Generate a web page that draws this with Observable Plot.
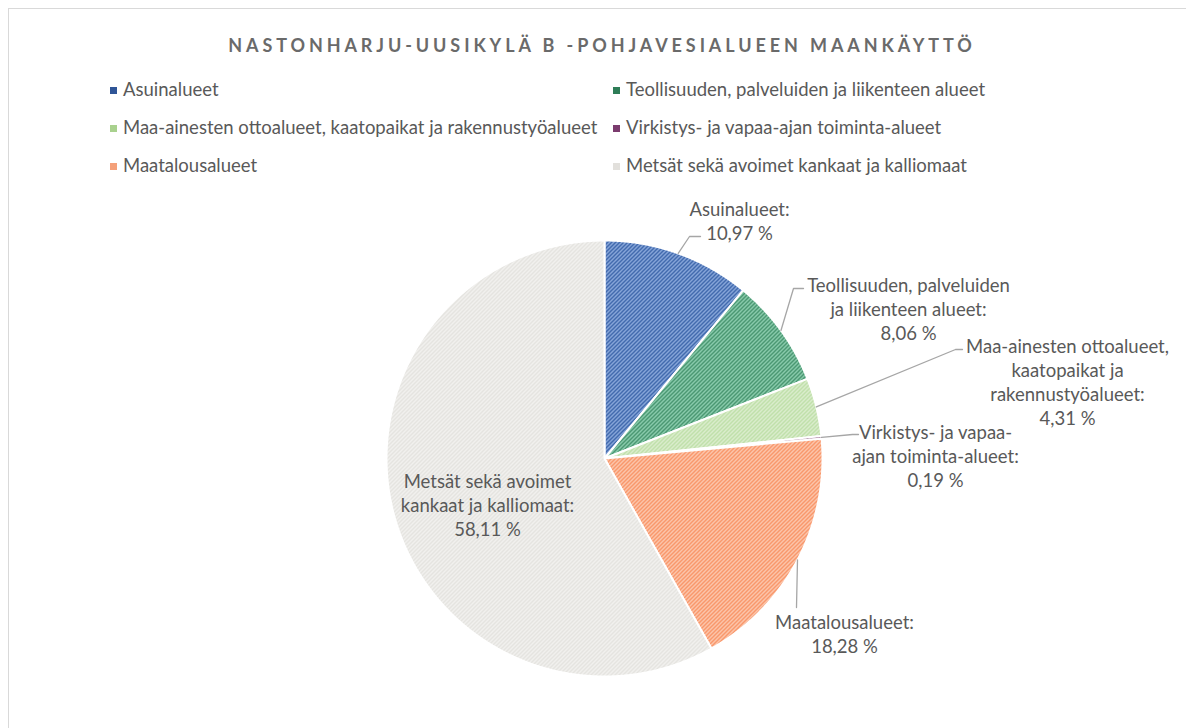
<!DOCTYPE html>
<html><head><meta charset="utf-8">
<script src="https://cdn.jsdelivr.net/npm/d3@7"></script>
<script src="https://cdn.jsdelivr.net/npm/@observablehq/plot@0.6"></script>
<style>
body{margin:0;background:#fff;font-family:Lato,"Open Sans",sans-serif;color:#595959;overflow:hidden;width:1186px;height:728px;position:relative}
#frame{position:absolute;left:8px;top:8px;width:1200px;height:760px;border:1px solid #d9d9d9;box-sizing:border-box}
#title{position:absolute;left:0;width:1204px;top:33px;text-align:center;font-size:18px;font-weight:700;letter-spacing:3.9px;line-height:24px;color:#6a6a6a;white-space:nowrap}
.leg{position:absolute;font-size:18.5px;line-height:22px;white-space:nowrap}
.leg i{display:inline-block;width:7px;height:7px;margin-right:6px;vertical-align:middle;position:relative;top:-1px}
#chart{position:absolute;left:0;top:185px}
#defs{position:absolute;width:0;height:0}
</style></head><body>
<div id="frame"></div>
<div id="title"></div>
<div id="legend"></div>
<svg id="defs" width="0" height="0"><defs id="patdefs"></defs></svg>
<div id="chart"></div>
<script>
// ---- data ----
const title = "NASTONHARJU-UUSIKYLÄ B -POHJAVESIALUEEN MAANKÄYTTÖ";
const categories = [
  "Asuinalueet",
  "Teollisuuden, palveluiden ja liikenteen alueet",
  "Maa-ainesten ottoalueet, kaatopaikat ja rakennustyöalueet",
  "Virkistys- ja vapaa-ajan toiminta-alueet",
  "Maatalousalueet",
  "Metsät sekä avoimet kankaat ja kalliomaat"
];
const shares = [10.97, 8.06, 4.31, 0.19, 18.28, 58.11];
const labelNames = [
  "Asuinalueet:",
  "Teollisuuden, palveluiden\nja liikenteen alueet:",
  "Maa-ainesten ottoalueet,\nkaatopaikat ja\nrakennustyöalueet:",
  "Virkistys- ja vapaa-\najan toiminta-alueet:",
  "Maatalousalueet:",
  "Metsät sekä avoimet\nkankaat ja kalliomaat:"
];

// ---- styles / layout ----
const patternBase =   ["#a9c3ef", "#a8e5c8", "#e6f3dc", "#c9a6c0", "#fddccb", "#f7f7f5"];
const patternStripe = ["#23509a", "#2f8059", "#b5da9c", "#7a3e6e", "#f8834f", "#e0deda"];
const legendColor =   ["#2f5597", "#2e7d57", "#a9d18e", "#7b3b6e", "#f4a07a", "#e2e0dc"];
const W = 1186, H = 530, cx = 604, cy = 273, R = 218;
// label block centre and leader elbow/end (pixel layout inside the svg)
const labelLayout = [
  {x: 739, y: 34.5, elbow: [689, 51],  end: [700, 51]},
  {x: 908, y: 123, elbow: [793, 103], end: [803, 103]},
  {x: 1067, y: 196, elbow: [955, 164], end: [962, 164]},
  {x: 935, y: 270, elbow: [852, 249], end: [858, 249]},
  {x: 844, y: 448, elbow: [796, 422], end: [796, 422]},
  {x: 487, y: 319, elbow: null, end: null}
];
const legendX = [110, 613], legendY0 = 89, legendDy = 38;

document.getElementById("title").textContent = title;

// patterns
const defs = document.getElementById("patdefs");
defs.innerHTML = categories.map((c, i) =>
  `<pattern id="pat${i}" width="4" height="4" patternUnits="userSpaceOnUse">
     <rect width="4" height="4" fill="${patternBase[i]}"/>
     <path d="M-1,1 l2,-2 M0,4 l4,-4 M3,5 l2,-2" stroke="${patternStripe[i]}" stroke-width="1.5"/>
   </pattern>`).join("");

// legend
const legend = document.getElementById("legend");
categories.forEach((c, i) => {
  const d = document.createElement("div");
  d.className = "leg";
  d.style.left = legendX[i % 2] + "px";
  d.style.top = (legendY0 + Math.floor(i / 2) * legendDy - 11) + "px";
  d.innerHTML = `<i style="background:${legendColor[i]}"></i>`;
  d.appendChild(document.createTextNode(c));
  legend.appendChild(d);
});

// pie geometry (unit circle, angle 0 at top, clockwise)
const arcs = d3.pie().sort(null).value(d => d)(shares);
const slices = arcs.map((a, i) => {
  const pts = [{x: 0, y: 0}];
  const n = Math.max(2, Math.ceil((a.endAngle - a.startAngle) / 0.005));
  for (let k = 0; k <= n; k++) {
    const t = a.startAngle + (a.endAngle - a.startAngle) * k / n;
    pts.push({x: Math.sin(t), y: -Math.cos(t)});
  }
  return pts;
});
const px = v => (v - cx) / R, py = v => (v - cy) / R;
const fmt = v => v.toFixed(2).replace(".", ",") + " %";

const leaders = [];
arcs.forEach((a, i) => {
  const L = labelLayout[i];
  if (!L.elbow) return;
  const m = (a.startAngle + a.endAngle) / 2;
  leaders.push({k: i, x: Math.sin(m), y: -Math.cos(m)});
  leaders.push({k: i, x: px(L.elbow[0]), y: py(L.elbow[1])});
  leaders.push({k: i, x: px(L.end[0]), y: py(L.end[1])});
});
const labels = shares.map((v, i) => ({
  x: px(labelLayout[i].x), y: py(labelLayout[i].y),
  text: labelNames[i] + "\n" + fmt(v)
}));

const chart = Plot.plot({
  width: W, height: H, margin: 0,
  x: {domain: [px(0), px(W)], range: [0, W], axis: null},
  y: {domain: [py(0), py(H)], range: [0, H], axis: null},
  style: {background: "transparent", overflow: "visible"},
  marks: [
    ...slices.map((s, i) => Plot.line(s, {x: "x", y: "y", curve: "linear-closed",
      fill: `url(#pat${i})`, stroke: "white", strokeWidth: 2, strokeLinejoin: "round"})),
    Plot.line(leaders, {x: "x", y: "y", z: "k", stroke: "#a6a6a6", strokeWidth: 1.3}),
    Plot.text(labels, {x: "x", y: "y", text: "text", fill: "#595959", fontSize: 18.5,
      fontFamily: "Lato", lineHeight: 1.3, textAnchor: "middle"})
  ]
});
document.getElementById("chart").appendChild(chart);
</script>
</body></html>
